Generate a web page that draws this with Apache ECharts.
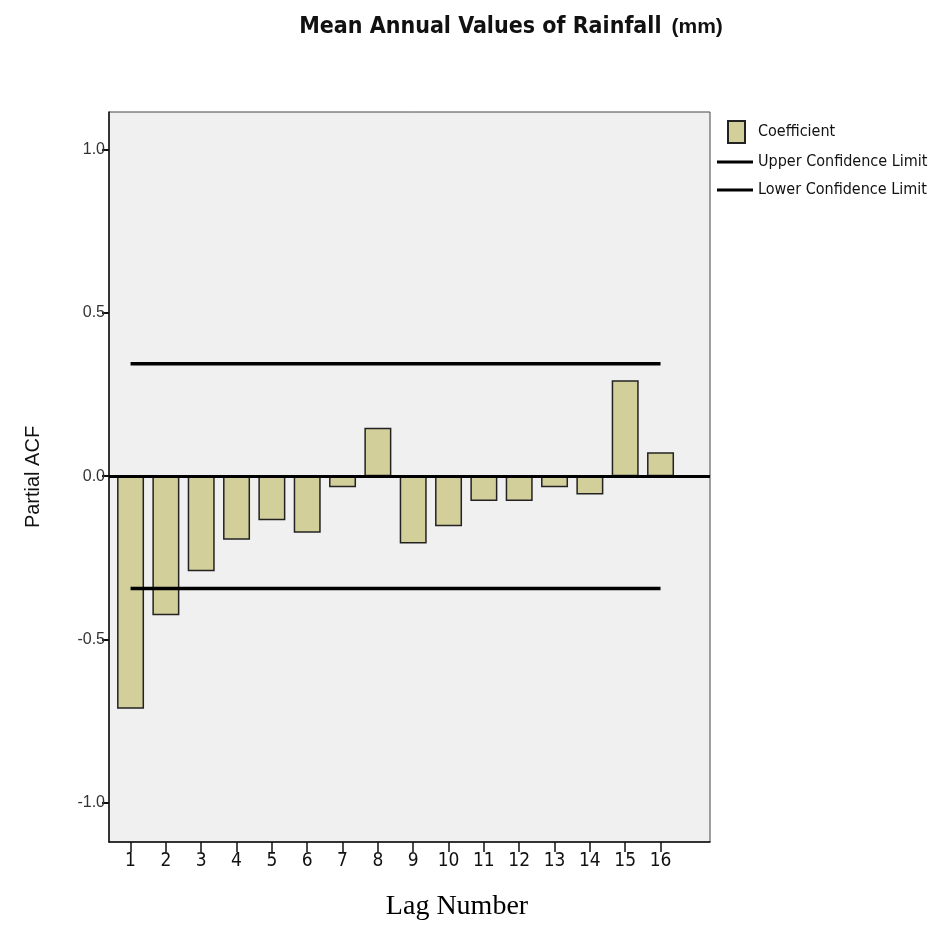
<!DOCTYPE html>
<html><head><meta charset="utf-8">
<script src="https://cdn.jsdelivr.net/npm/echarts@6/dist/echarts.min.js"></script>
<style>html,body{margin:0;padding:0;background:#fff}#c{width:935px;height:936px}</style>
</head><body><div id="c"></div>
<script>
const lags = [1, 2, 3, 4, 5, 6, 7, 8, 9, 10, 11, 12, 13, 14, 15, 16];
const coefficients = [-0.712, -0.426, -0.291, -0.195, -0.135, -0.173, -0.034, 0.148, -0.206, -0.153, -0.076, -0.076, -0.034, -0.056, 0.294, 0.073];
const upperLimit = 0.344;
const lowerLimit = -0.344;
const yTicks = [-1.0, -0.5, 0.0, 0.5, 1.0];

const narrow = "'DejaVu Sans Condensed', 'Liberation Sans Narrow', 'Arial Narrow', 'Liberation Sans', sans-serif";
const chart = echarts.init(document.getElementById('c'), null, {renderer: 'canvas'});
chart.setOption({
  animation: false,
  backgroundColor: '#ffffff',
  title: {
    text: '{a|Mean Annual Values of Rainfall}  {b|(mm)}',
    left: 506, top: 11, textAlign: 'center',
    textStyle: {
      rich: {
        a: {fontFamily: narrow, fontWeight: 'bold', fontSize: 23, color: '#111'},
        b: {fontFamily: "'Liberation Sans', Arial, sans-serif", fontWeight: 'bold', fontSize: 21, color: '#111'}
      }
    }
  },
  legend: [
    {data: [{name: 'Coefficient', icon: 'rect'}], left: 722, top: 115, itemWidth: 17, itemHeight: 22,
     textStyle: {fontFamily: narrow, fontSize: 16, color: '#111', padding: [0, 0, 0, 8]}},
    {data: [{name: 'Upper Confidence Limit', icon: 'rect'}], left: 712, top: 147, itemWidth: 36, itemHeight: 3,
     textStyle: {fontFamily: narrow, fontSize: 16, lineHeight: 20, color: '#111'}},
    {data: [{name: 'Lower Confidence Limit', icon: 'rect'}], left: 712, top: 175, itemWidth: 36, itemHeight: 3,
     textStyle: {fontFamily: narrow, fontSize: 16, lineHeight: 20, color: '#111'}}
  ],
  graphic: [{
    type: 'text', x: 457, y: 893,
    style: {text: 'Lag Number', textAlign: 'center',
      font: "28px 'Liberation Serif', 'Times New Roman', serif", fill: '#000'}
  }],
  grid: {left: 109, top: 112, right: 225, bottom: 94, show: true, backgroundColor: '#f0f0f0', borderColor: '#444', borderWidth: 1},
  xAxis: {
    type: 'value', min: 0.39, max: 17.4,
    axisLine: {onZero: false, lineStyle: {color: '#111', width: 1.5}},
    axisTick: {show: true, customValues: lags, length: 10, lineStyle: {color: '#111', width: 1.5}},
    axisLabel: {customValues: lags, fontFamily: narrow, fontSize: 19, color: '#111', margin: 10},
    splitLine: {show: false}
  },
  yAxis: {
    type: 'value', min: -1.12, max: 1.115,
    name: 'Partial ACF', nameLocation: 'middle', nameGap: 66, nameRotate: 90,
    nameTextStyle: {fontFamily: "'Liberation Sans', Arial, sans-serif", fontSize: 20, color: '#111'},
    axisLine: {show: true, lineStyle: {color: '#111', width: 1.5}},
    axisTick: {show: true, customValues: yTicks, length: 7, lineStyle: {color: '#111', width: 2}},
    axisLabel: {customValues: yTicks, formatter: v => v.toFixed(1), fontFamily: "'Liberation Sans', Arial, sans-serif", fontSize: 16, color: '#333', margin: 4},
    splitLine: {show: false}
  },
  series: [
    {
      name: 'Coefficient', type: 'bar', barWidth: 27,
      data: lags.map((l, i) => [l, coefficients[i]]),
      itemStyle: {color: '#d3cf9b', borderColor: '#222', borderWidth: 1.5},
      markLine: {silent: true, symbol: 'none', label: {show: false},
        lineStyle: {color: '#000', width: 3, type: 'solid'}, data: [{yAxis: 0}]},
      z: 2
    },
    {
      name: 'Upper Confidence Limit', type: 'line', symbol: 'none',
      data: [[lags[0], upperLimit], [lags[lags.length - 1], upperLimit]],
      lineStyle: {color: '#000', width: 3.5}, itemStyle: {color: '#000'}, z: 3
    },
    {
      name: 'Lower Confidence Limit', type: 'line', symbol: 'none',
      data: [[lags[0], lowerLimit], [lags[lags.length - 1], lowerLimit]],
      lineStyle: {color: '#000', width: 3.5}, itemStyle: {color: '#000'}, z: 3
    }
  ]
});
</script></body></html>
